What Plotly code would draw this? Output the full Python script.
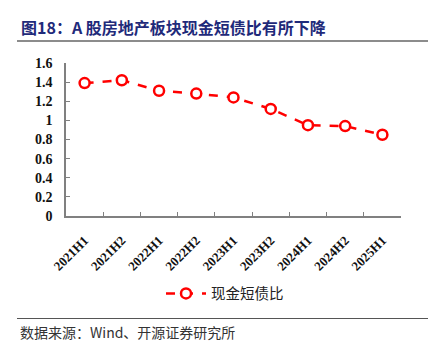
import plotly.graph_objects as go

categories = ["2021H1", "2021H2", "2022H1", "2022H2", "2023H1", "2023H2", "2024H1", "2024H2", "2025H1"]
ratio_values = [1.39, 1.42, 1.31, 1.28, 1.24, 1.12, 0.95, 0.94, 0.85]
series_name = "现金短债比"
y_ticks = [0, 0.2, 0.4, 0.6, 0.8, 1, 1.2, 1.4, 1.6]
y_tick_text = ["0", "0.2", "0.4", "0.6", "0.8", "1", "1.2", "1.4", "1.6"]
title_text = "图18：A 股房地产板块现金短债比有所下降"
source_text = "数据来源：Wind、开源证券研究所"

OFF = 8  # page body margin
W, H = 443 - OFF, 355 - OFF
# plot area in page pixels: x 66..401, y 63..215.7
L, T = 66 - OFF, 63 - OFF
R = W - (401 - OFF)
B = H - (215.7 - OFF)
pw, ph = W - L - R, H - T - B

def px(x):
    return (x - OFF - L) / pw

def py(y):
    return (H - B - (y - OFF)) / ph

fig = go.Figure()
fig.add_trace(go.Scatter(
    x=categories, y=ratio_values, name=series_name, mode="lines+markers",
    line=dict(color="#FF0000", width=2.5, dash="dash"),
    marker=dict(symbol="circle", size=10, color="white",
                line=dict(color="#FF0000", width=2.5)),
))

serif = "Liberation Serif, Times New Roman, Noto Sans CJK SC, serif"
cjk = "Noto Sans CJK SC, sans-serif"

fig.update_layout(
    width=W, height=H,
    margin=dict(l=L, r=R, t=T, b=B, autoexpand=False),
    paper_bgcolor="white", plot_bgcolor="white",
    showlegend=True,
    legend=dict(orientation="h", x=px(225), y=py(293), xanchor="center", yanchor="middle",
                font=dict(family=cjk, size=14.5, color="#222"), itemwidth=40),
    xaxis=dict(type="category", range=[-0.5, len(categories) - 0.5],
               showline=True, linecolor="#808080", linewidth=1.5,
               ticks="inside", ticklen=4, tickcolor="#808080", tickson="boundaries",
               tickangle=-45, showgrid=False, ticklabelstandoff=10,
               tickfont=dict(family=serif, size=13, color="#111", weight="bold")),
    yaxis=dict(range=[0, 1.6], tickvals=y_ticks, ticktext=y_tick_text,
               showline=True, linecolor="#808080", linewidth=1.5,
               ticks="inside", ticklen=4, tickcolor="#808080", showgrid=False,
               zeroline=False, ticklabelstandoff=9,
               tickfont=dict(family=serif, size=14, color="#111", weight="bold")),
    shapes=[
        dict(type="line", xref="paper", yref="paper", x0=px(17), x1=px(428), y0=py(41), y1=py(41),
             line=dict(color="#8c8c8c", width=2)),
        dict(type="line", xref="paper", yref="paper", x0=px(17), x1=px(428), y0=py(318), y1=py(318),
             line=dict(color="#555555", width=1)),
    ],
    annotations=[
        dict(text="<b>" + title_text + "</b>", xref="paper", yref="paper", x=px(19), y=py(27),
             xanchor="left", yanchor="middle", showarrow=False,
             font=dict(family=cjk, size=16, color="#1F2A7A")),
        dict(text=source_text, xref="paper", yref="paper", x=px(18), y=py(331),
             xanchor="left", yanchor="middle", showarrow=False,
             font=dict(family=cjk, size=14, color="#333333")),
    ],
)

fig.write_html("out.html")
